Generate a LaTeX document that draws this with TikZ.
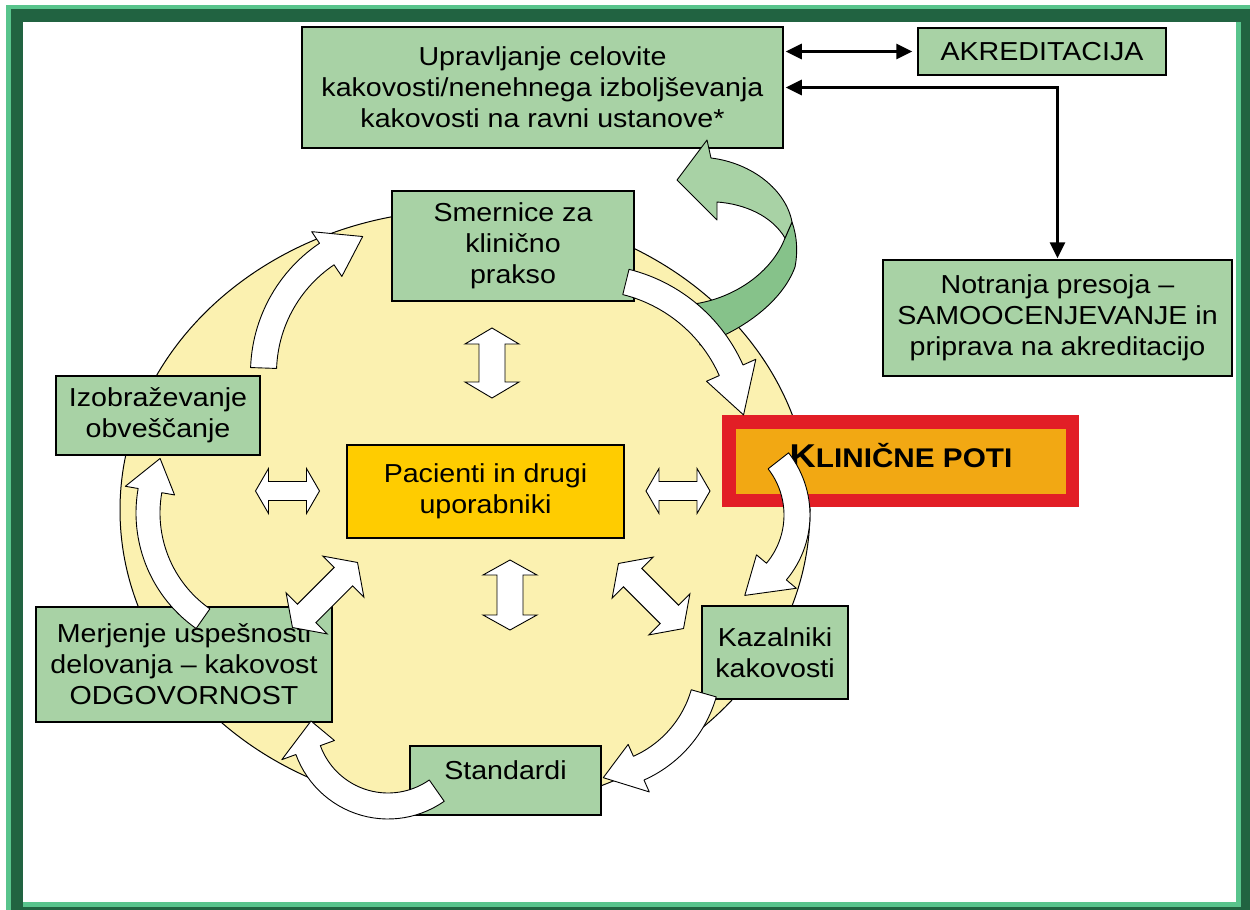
\documentclass[tikz,border=0pt]{standalone}
\usepackage{fontspec}
\setmainfont{Liberation Sans}[FakeStretch=1.1]
\usetikzlibrary{arrows.meta}
\definecolor{boxgreen}{RGB}{168,210,165}
\definecolor{ribbondark}{RGB}{134,194,138}
\definecolor{disc}{RGB}{251,241,176}
\definecolor{patient}{RGB}{255,204,0}
\definecolor{pathorange}{RGB}{242,168,19}
\definecolor{pathred}{RGB}{226,30,38}
\definecolor{frameDark}{RGB}{33,99,65}
\definecolor{frameLight}{RGB}{88,196,140}
\newcommand\dgmfont{\fontsize{26}{31}\selectfont}
% curved white block arrow on a circle: cx, cy, r, tail angle, head-base angle, tip angle, half width, barb half width, tip radial offset
\newcommand\ringarrow[9]{%
  \pgfmathsetmacro\raO{#3+#7}\pgfmathsetmacro\raI{#3-#7}%
  \pgfmathsetmacro\rbO{#3+#8}\pgfmathsetmacro\rbI{#3-#8}\pgfmathsetmacro\rtip{#3+(#9)}%
  \begin{scope}[shift={(#1,#2)}]
    \filldraw[ringarr] plot[domain=#4:#5,samples=30] (\x:\raO) -- (#5:\rbO) -- (#6:\rtip) -- (#5:\rbI)
      -- plot[domain=#5:#4,samples=30] (\x:\raI) -- cycle;
  \end{scope}}
% straight white double-headed block arrow: cx, cy, angle, half length, head length, head half width, shaft half width
\newcommand\dblarrow[7]{%
  \begin{scope}[shift={(#1,#2)},rotate=#3]
    \filldraw[dblarr] (-#4,0) -- ({-#4+#5},#6) -- ({-#4+#5},#7) -- ({#4-#5},#7) -- ({#4-#5},#6) -- (#4,0)
      -- ({#4-#5},-#6) -- ({#4-#5},-#7) -- ({-#4+#5},-#7) -- ({-#4+#5},-#6) -- cycle;
  \end{scope}}
\begin{document}
\begin{tikzpicture}[x=1pt,y=-1pt,
  box/.style={draw=black,line width=1.5pt,fill=boxgreen,inner sep=0pt,align=center,font=\dgmfont},
  ringarr/.style={fill=white,draw=black,line width=0.9pt,line join=round},
  dblarr/.style={fill=white,draw=black,line width=0.9pt},
  ribbon/.style={draw=black,line width=0.9pt,line join=round},
  conn/.style={line width=3pt,>={Triangle[length=16pt,width=15pt]},<->}]
\useasboundingbox (0,0) rectangle (1250,910);
\fill[white] (0,0) rectangle (1250,910);
% grooved frame
\fill[frameDark] (6,5) rectangle (1250,910);
\fill[frameLight] (6,5) rectangle (1250,9);
\fill[frameLight] (6,5) rectangle (11,910);
\fill[frameLight] (23,22) rectangle (1241,907);
\fill[white] (23,22) rectangle (1236,902);

% background disc
\draw[fill=disc,line width=1pt] (465,510) ellipse [x radius=345pt, y radius=300pt];

% boxes
\node[box,minimum width=481,minimum height=121] (upr) at (542.5,87.5) {Upravljanje celovite\\kakovosti/nenehnega izboljševanja\\kakovosti na ravni ustanove*};
\node[box,minimum width=248,minimum height=47] (akr) at (1042,51.5) {AKREDITACIJA};
\node[box,minimum width=349,minimum height=116] (notr) at (1057.5,318) {Notranja presoja –\\SAMOOCENJEVANJE in\\priprava na akreditacijo};
\node[box,minimum width=242,minimum height=110] (smer) at (513,246) {Smernice za\\klinično\\prakso};
\node[box,minimum width=204,minimum height=79] (izob) at (158,415.5) {Izobraževanje\\obveščanje};
\node[box,fill=patient,minimum width=277,minimum height=93] (pac) at (485.5,491.5) {Pacienti in drugi\\uporabniki};
\node[box,minimum width=296,minimum height=115] (merj) at (184,664.5) {Merjenje uspešnosti\\delovanja – kakovost\\ODGOVORNOST};
\node[box,minimum width=146,minimum height=93] (kaz) at (775,652.5) {Kazalniki\\kakovosti};
\node[box,minimum width=191,minimum height=69] (std) at (505.5,780.5) {};
\node[font=\dgmfont,inner sep=0pt] (stdlbl) at (505.5,770) {Standardi};
\node[draw=pathred,line width=13.5pt,fill=pathorange,minimum width=343.5,minimum height=78.5,inner sep=0pt] (kp) at (900.5,461) {};
\node[anchor=base,font=\bfseries,inner sep=0pt] (kplbl) at (901,467) {\fontsize{33}{33}\selectfont K\fontsize{27}{27}\selectfont LINIČNE POTI};

% green ribbon arrow towards the management box
\filldraw[ribbon,fill=ribbondark] (785,238) -- (792,222) .. controls (797,236) and (798,252) .. (795,267)
  .. controls (783,300) and (745,330) .. (700,345) -- (694,304) .. controls (735,298) and (772,272) .. (785,238) -- cycle;
\filldraw[ribbon,fill=boxgreen] (717,202) .. controls (745,204) and (772,216) .. (785,238) -- (792,222)
  .. controls (786,190) and (752,163) .. (711,158) -- (707,140) -- (677,180) -- (717,220) -- cycle;

% cycle of curved arrows
\ringarrow{407}{373}{143.5}{182}{236}{252}{13}{27}{0}
\ringarrow{588}{434}{156.7}{284}{336}{353}{13}{27}{0}
\ringarrow{709}{515}{88}{322}{400}{426}{13}{26}{0}
\ringarrow{591}{661}{117.3}{16}{66}{84}{13}{26}{0}
\ringarrow{388}{721}{85}{55}{160}{180}{13}{28}{-8}
\ringarrow{277}{513}{129}{125}{190}{205}{12}{25}{0}

% double arrows around the centre
\dblarrow{492}{363}{90}{35}{16}{27}{13}
\dblarrow{510}{595}{90}{35}{15}{27}{13}
\dblarrow{287.5}{491}{0}{32}{13}{22.5}{9.5}
\dblarrow{678}{491}{0}{32}{13}{22.5}{9.5}
\dblarrow{325}{595}{45}{46}{20}{29}{13}
\dblarrow{651}{596}{-45}{46}{20}{29}{13}

% connectors
\draw[conn,shorten <=2pt,shorten >=5pt] (upr.east |- akr.west) -- (akr.west);
\draw[conn,shorten <=2pt,shorten >=1pt] (upr.east) -- (upr.east -| notr.north) -- (notr.north);
\end{tikzpicture}
\end{document}
